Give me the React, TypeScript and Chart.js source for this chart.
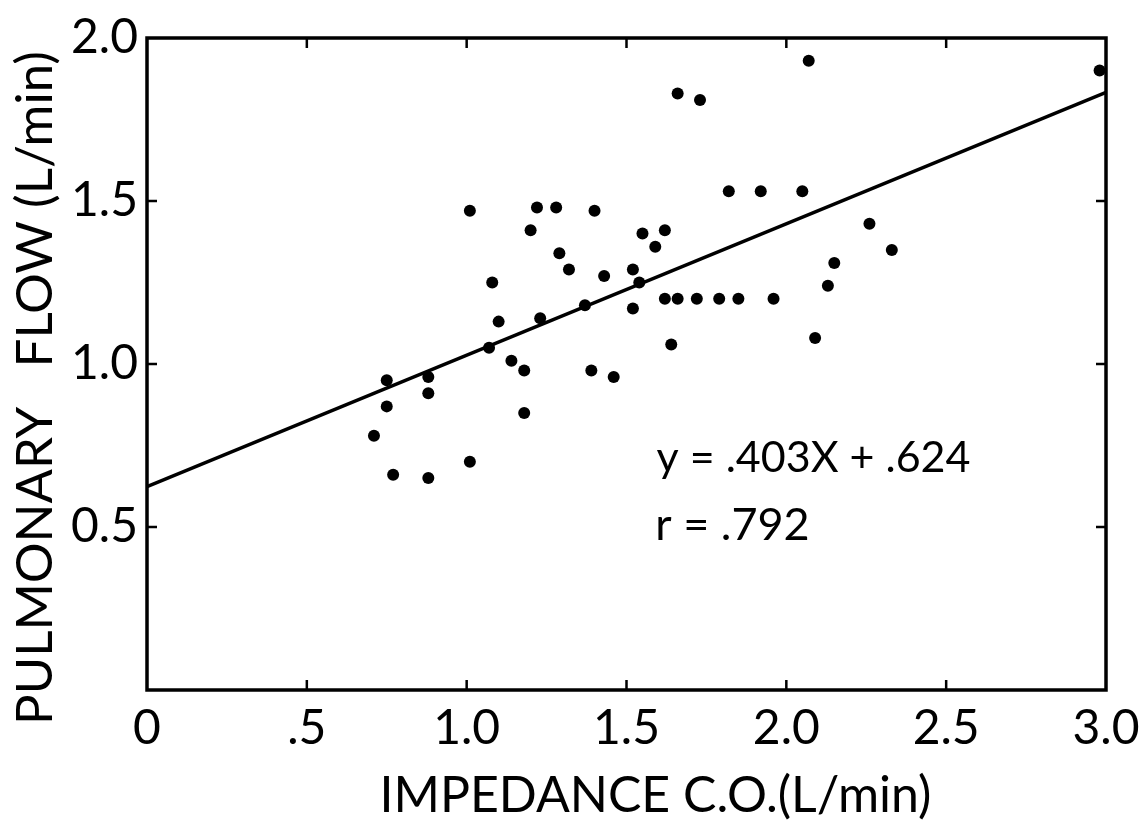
import React, { useEffect, useRef } from 'react';
import { Chart, registerables } from 'chart.js';

Chart.register(...registerables);

// Impedance cardiac output (L/min)
const IMPEDANCE_CO = [
  0.71, 0.75, 0.75, 0.77, 0.88, 0.88, 0.88,
  1.01, 1.01, 1.07, 1.08, 1.10, 1.14, 1.18, 1.18, 1.20, 1.22, 1.23,
  1.28, 1.29, 1.32, 1.37, 1.39, 1.40, 1.43, 1.46,
  1.52, 1.52, 1.54, 1.55, 1.59, 1.62, 1.62, 1.64, 1.66, 1.66,
  1.72, 1.73, 1.79, 1.82, 1.85, 1.92, 1.96,
  2.05, 2.07, 2.09, 2.13, 2.15, 2.26, 2.33, 2.98,
];
// Pulmonary flow (L/min), same order
const PULMONARY_FLOW = [
  0.78, 0.87, 0.95, 0.66, 0.96, 0.91, 0.65,
  0.70, 1.47, 1.05, 1.25, 1.13, 1.01, 0.85, 0.98, 1.41, 1.48, 1.14,
  1.48, 1.34, 1.29, 1.18, 0.98, 1.47, 1.27, 0.96,
  1.17, 1.29, 1.25, 1.40, 1.36, 1.20, 1.41, 1.06, 1.20, 1.83,
  1.20, 1.81, 1.20, 1.53, 1.20, 1.53, 1.20,
  1.53, 1.93, 1.08, 1.24, 1.31, 1.43, 1.35, 1.90,
];

// Regression printed on the figure
const SLOPE = 0.403;
const INTERCEPT = 0.624;
const R_VALUE = '.792';
const FIT_X_RANGE = [0, 3.0];

const X_TICK_LABELS = ['0', '.5', '1.0', '1.5', '2.0', '2.5', '3.0'];
const Y_TICK_LABELS = ['', '0.5', '1.0', '1.5', '2.0'];
const X_INNER_TICKS = [0.5, 1.0, 1.5, 2.0, 2.5];
const Y_INNER_TICKS = [0.5, 1.0, 1.5];

const X_TITLE = 'IMPEDANCE C.O.(L/min)';
const Y_TITLE = 'PULMONARY   FLOW (L/min)';
const EQUATION = 'y = .403X + .624';
const R_TEXT = 'r = ' + R_VALUE;

const TICK_FONT = 'Lato, "Liberation Sans", sans-serif';
const TEXT_FONT = 'Lato, "Noto Sans", sans-serif';

const framePlugin = {
  id: 'frameAndText',
  afterDraw(chart: any) {
    const { ctx, chartArea: a, scales } = chart;
    const xs = scales.x;
    const ys = scales.y;
    ctx.save();
    ctx.strokeStyle = '#000';
    ctx.lineWidth = 3.5;
    ctx.strokeRect(a.left, a.top, a.right - a.left, a.bottom - a.top);

    ctx.lineWidth = 2.5;
    const L = 10;
    ctx.beginPath();
    X_INNER_TICKS.forEach((v) => {
      const px = xs.getPixelForValue(v);
      ctx.moveTo(px, a.bottom);
      ctx.lineTo(px, a.bottom - L);
      ctx.moveTo(px, a.top);
      ctx.lineTo(px, a.top + L);
    });
    Y_INNER_TICKS.forEach((v) => {
      const py = ys.getPixelForValue(v);
      ctx.moveTo(a.left, py);
      ctx.lineTo(a.left + L, py);
      ctx.moveTo(a.right, py);
      ctx.lineTo(a.right - L, py);
    });
    ctx.stroke();

    ctx.fillStyle = '#000';
    // equation annotation
    ctx.textAlign = 'left';
    ctx.textBaseline = 'alphabetic';
    ctx.font = `43px ${TEXT_FONT}`;
    ctx.fillText(EQUATION, xs.getPixelForValue(1.594), ys.getPixelForValue(0.67));
    ctx.font = `45px ${TEXT_FONT}`;
    ctx.fillText(R_TEXT, xs.getPixelForValue(1.59), ys.getPixelForValue(0.46));

    // x axis title
    ctx.font = `50px ${TEXT_FONT}`;
    ctx.textAlign = 'center';
    ctx.fillText(X_TITLE, (a.left + a.right) / 2 + 29, 812);

    // y axis title
    ctx.save();
    ctx.translate(52, (a.top + a.bottom) / 2 + 24);
    ctx.rotate(-Math.PI / 2);
    ctx.font = `51px ${TEXT_FONT}`;
    ctx.textAlign = 'center';
    ctx.textBaseline = 'alphabetic';
    ctx.fillText(Y_TITLE, 0, 0);
    ctx.restore();

    ctx.restore();
  },
};

export default function App() {
  const ref = useRef<HTMLCanvasElement>(null);

  useEffect(() => {
    document.body.style.margin = '0';
    document.body.style.background = '#fff';
    const points = IMPEDANCE_CO.map((x, i) => ({ x, y: PULMONARY_FLOW[i] }));
    const fit = FIT_X_RANGE.map((x) => ({ x, y: SLOPE * x + INTERCEPT }));

    const chart = new Chart(ref.current as HTMLCanvasElement, {
      type: 'scatter',
      data: {
        datasets: [
          {
            type: 'line',
            label: 'fit',
            data: fit,
            borderColor: '#000',
            borderWidth: 3.5,
            pointRadius: 0,
            fill: false,
          } as any,
          {
            label: 'data',
            data: points,
            backgroundColor: '#000',
            borderWidth: 0,
            pointRadius: 6,
            clip: false,
          } as any,
        ],
      },
      options: {
        responsive: false,
        animation: false,
        layout: { padding: { top: 38, right: 35, left: 0, bottom: 0 } },
        plugins: {
          legend: { display: false },
          tooltip: { enabled: false },
        },
        scales: {
          x: {
            type: 'linear',
            min: 0,
            max: 3,
            border: { display: false },
            grid: { display: false, drawTicks: false },
            ticks: {
              stepSize: 0.5,
              padding: 10,
              color: '#000',
              font: { family: TICK_FONT, size: 48 },
              callback: (v: any) => X_TICK_LABELS[Math.round(Number(v) / 0.5)] ?? '',
              maxRotation: 0,
              autoSkip: false,
            },
            afterFit: (s: any) => {
              s.height = 136;
              s.paddingLeft = 0;
              s.paddingRight = 0;
            },
          },
          y: {
            type: 'linear',
            min: 0,
            max: 2,
            border: { display: false },
            grid: { display: false, drawTicks: false },
            ticks: {
              stepSize: 0.5,
              padding: 9,
              color: '#000',
              font: { family: TICK_FONT, size: 48 },
              callback: (v: any) => Y_TICK_LABELS[Math.round(Number(v) / 0.5)] ?? '',
              autoSkip: false,
            },
            afterFit: (s: any) => {
              s.width = 147;
              s.paddingTop = 0;
              s.paddingBottom = 0;
            },
          },
        },
      },
      plugins: [framePlugin],
    });
    return () => chart.destroy();
  }, []);

  return (
    <div style={{ width: 1141, height: 826, background: '#fff' }}>
      <canvas ref={ref} width={1141} height={826} style={{ display: 'block' }} />
    </div>
  );
}
